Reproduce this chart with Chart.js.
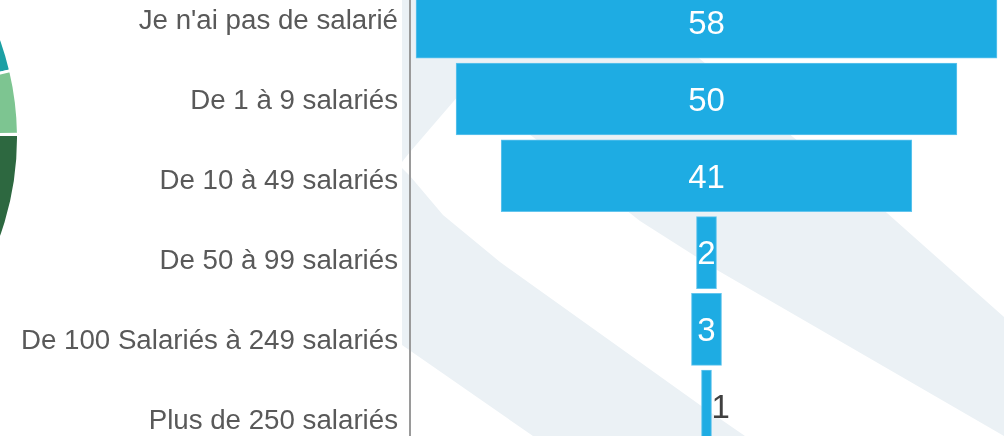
<!DOCTYPE html>
<html lang="fr">
<head>
<meta charset="utf-8">
<title>Taille des entreprises</title>
<script src="https://cdn.jsdelivr.net/npm/chart.js@4/dist/chart.umd.min.js"></script>
<style>
  html, body { margin: 0; padding: 0; width: 1004px; height: 436px; overflow: hidden; background: #fff; }
  body { position: relative; }
  #watermark { position: absolute; left: 0; top: 0; }
  #pieChart { position: absolute; left: -568px; top: -156px; }
  #funnelChart { position: absolute; left: 0; top: -19px; }
</style>
</head>
<body>
<!-- faint background logo behind the funnel -->
<svg id="watermark" width="1004" height="436">
  <polygon fill="#ebf1f5" points="402,0 630,0 793,137 887,213 1004,317 1004,436 717,270 640,221 533,137 465,88 410,152 402,162"/>
  <polygon fill="#ebf1f5" points="402,168 410,176 443,215 500,262 700,405 745,436 533,436 402,345"/>
</svg>
<canvas id="pieChart" width="588" height="588"></canvas>
<canvas id="funnelChart" width="1004" height="480"></canvas>
<script>
  const categories = [
    "Je n'ai pas de salarié",
    'De 1 à 9 salariés',
    'De 10 à 49 salariés',
    'De 50 à 99 salariés',
    'De 100 Salariés à 249 salariés',
    'Plus de 250 salariés'
  ];
  const values = [58, 50, 41, 2, 3, 1];

  // pie on the left is mostly cut off, only three slices show
  const pieValues = [18, 3.3, 3.5, 40, 35.2];
  const pieColors = ['#4f9e7c', '#1ca0a4', '#7dc591', '#2d6840', '#3e8a58'];

  const labelFont = '"Liberation Sans", Arial, sans-serif';
  const valueSize = 33;

  // numbers on the bars: white inside, grey to the right when the bar is too thin
  const valueLabels = {
    id: 'valueLabels',
    afterDatasetsDraw(chart) {
      const ctx = chart.ctx;
      const meta = chart.getDatasetMeta(0);
      ctx.save();
      ctx.font = valueSize + 'px ' + labelFont;
      ctx.textBaseline = 'alphabetic';
      meta.data.forEach((bar, i) => {
        const text = String(values[i]);
        const w = ctx.measureText(text).width;
        const left = Math.min(bar.x, bar.base);
        const right = Math.max(bar.x, bar.base);
        // centre the digits (cap height ~0.716em) on the bar
        const y = bar.y + valueSize * 0.358;
        if (right - left >= w) {
          ctx.fillStyle = '#ffffff';
          ctx.textAlign = 'center';
          ctx.fillText(text, (left + right) / 2, y);
        } else {
          ctx.fillStyle = '#404040';
          ctx.textAlign = 'left';
          ctx.fillText(text, right, y);
        }
      });
      ctx.restore();
    }
  };

  new Chart(document.getElementById('pieChart'), {
    type: 'pie',
    data: {
      datasets: [{
        data: pieValues,
        backgroundColor: pieColors,
        borderColor: '#ffffff',
        borderWidth: 3
      }]
    },
    options: {
      responsive: false,
      animation: false,
      plugins: { legend: { display: false }, tooltip: { enabled: false } }
    }
  });

  new Chart(document.getElementById('funnelChart'), {
    type: 'bar',
    data: {
      labels: categories,
      datasets: [{
        data: values.map((v, i) => ({ x: [-v / 2, v / 2], y: i })),
        xAxisID: 'x',
        yAxisID: 'yb',
        backgroundColor: '#1eace3',
        borderColor: '#63c5ee',
        borderWidth: 1,
        borderSkipped: false,
        barThickness: 72
      }]
    },
    plugins: [valueLabels],
    options: {
      indexAxis: 'y',
      responsive: false,
      animation: false,
      layout: { padding: 0 },
      plugins: { legend: { display: false }, tooltip: { enabled: false } },
      scales: {
        x: { type: 'linear', display: false, min: -29.6, max: 29.7 },
        yb: { type: 'linear', display: false, reverse: true, offset: false, min: -0.536, max: 5.714 },
        y: {
          type: 'category',
          position: 'left',
          offset: true,
          grid: { display: false, drawTicks: false },
          border: { display: true, color: '#9a9a9a', width: 2 },
          ticks: {
            color: '#595959',
            padding: 12,
            autoSkip: false,
            font: { family: labelFont, size: 27.7 }
          },
          afterFit(scale) {
            scale.width = 410;
            scale.paddingTop = 0;
            scale.paddingBottom = 0;
          }
        }
      }
    }
  });
</script>
</body>
</html>
